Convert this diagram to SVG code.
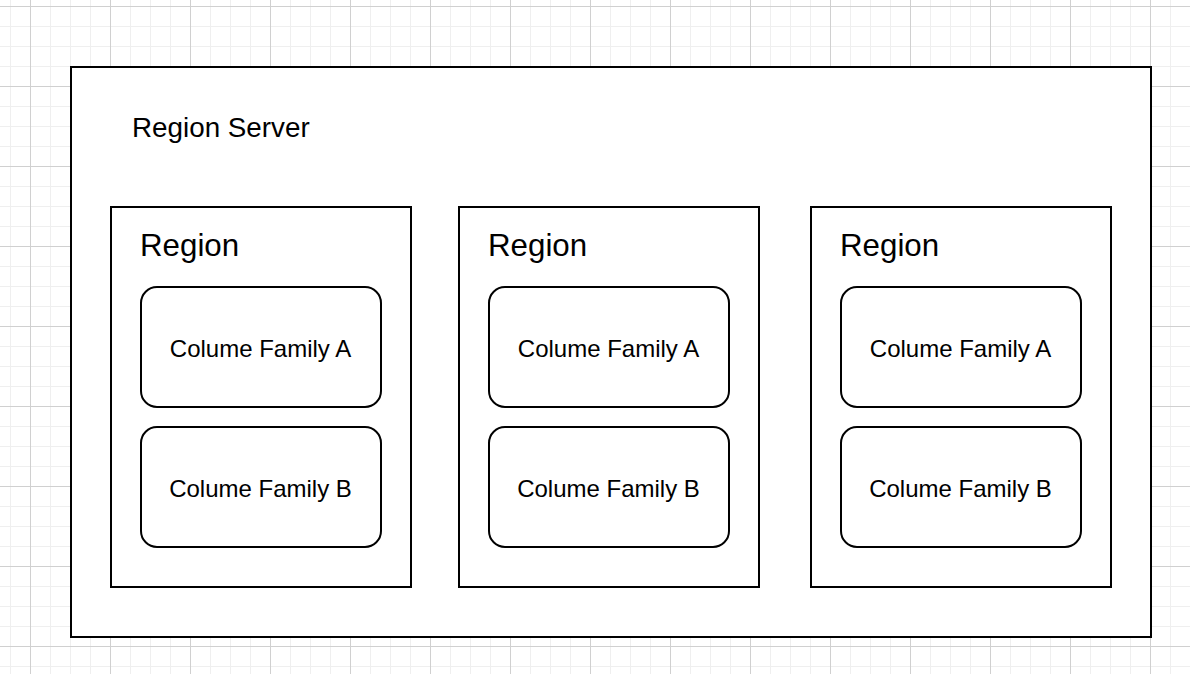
<svg xmlns="http://www.w3.org/2000/svg" width="1190" height="674" viewBox="0 0 1190 674">
<defs>
<pattern id="minor" x="10" y="6" width="20" height="20" patternUnits="userSpaceOnUse">
<path d="M0.5 0V20M0 0.5H20" stroke="#efefef" stroke-width="1" fill="none"/>
</pattern>
<pattern id="major" x="30" y="6" width="80" height="80" patternUnits="userSpaceOnUse">
<path d="M0.5 0V80M0 0.5H80" stroke="#d0d0d0" stroke-width="1" fill="none"/>
</pattern>
</defs>
<style>
.box{fill:#ffffff;stroke:#000000;stroke-width:2}
.cf{fill:#ffffff;stroke:#000000;stroke-width:2}
.t{font-family:"Liberation Sans",Arial,sans-serif;fill:#000000}
.rs{font-size:27.8px}
.rg{font-size:31.3px}
.c{font-size:24px;text-anchor:middle}
</style>
<rect width="1190" height="674" fill="#ffffff"/>
<rect width="1190" height="674" fill="url(#minor)"/>
<rect width="1190" height="674" fill="url(#major)"/>
<g id="region-server">
<rect class="box" x="71" y="67" width="1080" height="570"/>
<text class="t rs" x="132" y="137">Region Server</text>
</g>
<g id="region-1">
<rect class="box" x="111" y="207" width="300" height="380"/>
<text class="t rg" x="140" y="256">Region</text>
</g>
<g id="cf-1a">
<rect class="cf" x="141" y="287" width="240" height="120" rx="16"/>
<text class="t c" x="260.5" y="357">Colume Family A</text>
</g>
<g id="cf-1b">
<rect class="cf" x="141" y="427" width="240" height="120" rx="16"/>
<text class="t c" x="260.5" y="497">Colume Family B</text>
</g>
<g id="region-2">
<rect class="box" x="459" y="207" width="300" height="380"/>
<text class="t rg" x="488" y="256">Region</text>
</g>
<g id="cf-2a">
<rect class="cf" x="489" y="287" width="240" height="120" rx="16"/>
<text class="t c" x="608.5" y="357">Colume Family A</text>
</g>
<g id="cf-2b">
<rect class="cf" x="489" y="427" width="240" height="120" rx="16"/>
<text class="t c" x="608.5" y="497">Colume Family B</text>
</g>
<g id="region-3">
<rect class="box" x="811" y="207" width="300" height="380"/>
<text class="t rg" x="840" y="256">Region</text>
</g>
<g id="cf-3a">
<rect class="cf" x="841" y="287" width="240" height="120" rx="16"/>
<text class="t c" x="960.5" y="357">Colume Family A</text>
</g>
<g id="cf-3b">
<rect class="cf" x="841" y="427" width="240" height="120" rx="16"/>
<text class="t c" x="960.5" y="497">Colume Family B</text>
</g>
<g id="connectors"></g>
</svg>
